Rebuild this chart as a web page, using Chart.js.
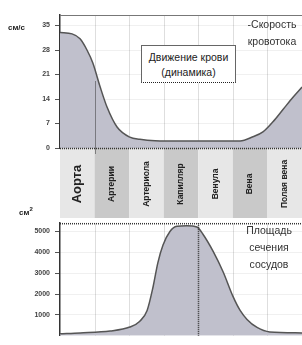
<!DOCTYPE html>
<html>
<head>
<meta charset="utf-8">
<script src="https://cdn.jsdelivr.net/npm/chart.js@4"></script>
<style>
body { margin: 0; background: #fff; }
#wrap { position: relative; width: 302px; height: 345px; overflow: hidden; font-family: "Liberation Sans", Arial, sans-serif; color: #333; }
#topBox { position: absolute; left: 0; top: 0; width: 302px; height: 218px; }
#botBox { position: absolute; left: 0; top: 214px; width: 302px; height: 131px; }
.t { position: absolute; white-space: nowrap; }
.unit { font-weight: bold; font-size: 8px; color: #222; }
.cap { font-size: 10.5px; text-align: center; line-height: 17px; color: #333; }
#dyn { left: 141px; top: 45px; width: 95px; height: 38px; border: 1px solid #666; border-bottom: 1px dotted #222; background: #fff; font-size: 10.5px; text-align: center; line-height: 15px; padding-top: 4px; box-sizing: border-box; color: #222; }
</style>
</head>
<body>
<div id="wrap">
  <div id="topBox"><canvas id="speed"></canvas></div>
  <div id="botBox"><canvas id="area"></canvas></div>
  <div class="t unit" style="left:8px;top:23px;">см/с</div>
  <div class="t unit" style="left:19px;top:206px;">см<sup style="font-size:6px">2</sup></div>
  <div class="t cap" style="left:242px;top:16px;width:60px;">-Скорость<br>кровотока</div>
  <div class="t" id="dyn">Движение крови<br>(динамика)</div>
  <div class="t cap" style="left:239px;top:222px;width:60px;">Площадь<br>сечения<br>сосудов</div>
</div>
<script>
// отделы сосудистого русла
var categories = ['Аорта', 'Артерии', 'Артериола', 'Капилляр', 'Венула', 'Вена', 'Полая вена'];

// скорость кровотока, см/с (x = позиция вдоль русла, 0..7)
var speedX = [0, 0.35, 0.58, 0.78, 0.95, 1.16, 1.36, 1.65, 2.02, 2.31, 2.75, 3.5, 4.5, 5.21, 5.58, 5.87, 6.16, 6.45, 6.74, 7];
var speedY = [33, 32.6, 31.2, 28, 24.3, 17.5, 11.7, 6, 3.1, 2.5, 2.1, 2.0, 2.0, 2.0, 3.2, 4.6, 7.5, 11, 14.5, 17.4];
var speedTicks = [0, 7, 14, 21, 28, 35];

// площадь сечения сосудов, см2
var areaX = [0, 0.58, 1.45, 2.02, 2.31, 2.52, 2.69, 2.83, 2.98, 3.18, 3.38, 3.67, 3.96, 4.14, 4.43, 4.72, 5.0, 5.21, 5.41, 5.70, 6.07, 7];
var areaY = [100, 140, 230, 420, 700, 1215, 2330, 3500, 4350, 5000, 5250, 5280, 5220, 4860, 4050, 3060, 1900, 1215, 785, 400, 185, 140];
var areaTicks = [1000, 2000, 3000, 4000, 5000];

var fillColor = '#c0c0cc';
var lineColor = '#555';
var fontFam = '"Liberation Sans", Arial, sans-serif';

function pts(xs, ys) {
    return xs.map(function (x, i) { return { x: x, y: ys[i] }; });
}

function vLines(chart) {
    var ctx = chart.ctx, a = chart.chartArea, x = chart.scales.x;
    ctx.save();
    ctx.strokeStyle = 'rgba(0,0,0,0.13)';
    ctx.lineWidth = 1;
    for (var i = 1; i < categories.length; i++) {
        var px = Math.round(x.getPixelForValue(i)) + 0.5;
        ctx.beginPath(); ctx.moveTo(px, a.top); ctx.lineTo(px, a.bottom); ctx.stroke();
    }
    ctx.restore();
}

var speedPlugin = {
    id: 'speedDeco',
    beforeDraw: function (chart) {
        var ctx = chart.ctx, a = chart.chartArea, x = chart.scales.x;
        ctx.save();
        for (var i = 0; i < categories.length; i++) {
            var l = x.getPixelForValue(i), r = x.getPixelForValue(i + 1);
            ctx.fillStyle = i % 2 ? '#c9c9c9' : '#e7e7e7';
            ctx.fillRect(l, a.bottom, r - l, chart.height - a.bottom);
        }
        ctx.restore();
        vLines(chart);
    },
    afterDraw: function (chart) {
        var ctx = chart.ctx, a = chart.chartArea, x = chart.scales.x, y = chart.scales.y;
        ctx.save();
        // пунктир на границе аорта / артерии
        ctx.strokeStyle = '#333';
        ctx.setLineDash([1, 1]);
        var px = Math.round(x.getPixelForValue(1)) + 0.5;
        ctx.beginPath(); ctx.moveTo(px, y.getPixelForValue(19)); ctx.lineTo(px, a.bottom + 6); ctx.stroke();
        // нулевая линия
        var zy = Math.round(y.getPixelForValue(0)) + 0.5;
        ctx.lineWidth = 1.5;
        ctx.beginPath(); ctx.moveTo(a.left, zy); ctx.lineTo(a.right, zy); ctx.stroke();
        ctx.setLineDash([]);
        // верхняя рамка
        ctx.lineWidth = 1;
        ctx.strokeStyle = '#777';
        ctx.beginPath(); ctx.moveTo(a.left, a.top + 0.5); ctx.lineTo(a.right, a.top + 0.5); ctx.stroke();
        // подписи отделов
        ctx.fillStyle = '#222';
        ctx.textAlign = 'center';
        ctx.textBaseline = 'middle';
        var cy = (a.bottom + chart.height) / 2 + 1;
        categories.forEach(function (c, i) {
            ctx.save();
            ctx.translate(x.getPixelForValue(i + 0.5), cy);
            ctx.rotate(-Math.PI / 2);
            ctx.font = i === 0 ? 'bold 13px ' + fontFam : 'bold 8.5px ' + fontFam;
            ctx.fillText(c, 0, 0);
            ctx.restore();
        });
        ctx.restore();
    }
};

var areaPlugin = {
    id: 'areaDeco',
    beforeDatasetsDraw: function (chart) { vLines(chart); },
    afterDraw: function (chart) {
        var ctx = chart.ctx, a = chart.chartArea, x = chart.scales.x;
        ctx.save();
        ctx.strokeStyle = '#333';
        ctx.setLineDash([1, 1]);
        ctx.lineWidth = 1.5;
        ctx.beginPath(); ctx.moveTo(a.left, a.top + 0.5); ctx.lineTo(a.right, a.top + 0.5); ctx.stroke();
        var px = Math.round(x.getPixelForValue(4)) + 0.5;
        ctx.beginPath(); ctx.moveTo(px, a.top); ctx.lineTo(px, a.bottom); ctx.stroke();
        ctx.restore();
    }
};

function yAxis(min, max, ticks) {
    return {
        min: min, max: max,
        afterBuildTicks: function (axis) { axis.ticks = ticks.map(function (v) { return { value: v }; }); },
        afterFit: function (axis) { axis.width = 60; },
        ticks: {
            color: '#444', font: { size: 7, weight: 'bold', family: fontFam }, padding: 5,
            callback: function (v) { return String(v); }
        },
        grid: { color: 'rgba(0,0,0,0.12)', tickLength: 5, tickColor: '#555' },
        border: { display: true, color: '#333', dash: [1, 1], width: 1.5 }
    };
}

Chart.defaults.animation = false;

new Chart(document.getElementById('speed').getContext('2d'), {
    type: 'line',
    data: {
        datasets: [{
            data: pts(speedX, speedY),
            fill: 'origin',
            backgroundColor: fillColor,
            borderColor: lineColor,
            borderWidth: 1.5,
            pointRadius: 0,
            cubicInterpolationMode: 'monotone'
        }]
    },
    options: {
        responsive: true,
        maintainAspectRatio: false,
        layout: { padding: { top: 15, right: 0, left: 0, bottom: 0 } },
        plugins: { legend: { display: false }, tooltip: { enabled: false } },
        scales: {
            x: {
                type: 'linear', min: 0, max: 7,
                ticks: { display: false },
                grid: { display: false },
                border: { display: false },
                afterFit: function (axis) { axis.height = 70; }
            },
            y: yAxis(0, 38, speedTicks)
        }
    },
    plugins: [speedPlugin]
});

new Chart(document.getElementById('area').getContext('2d'), {
    type: 'line',
    data: {
        datasets: [{
            data: pts(areaX, areaY),
            fill: 'origin',
            backgroundColor: fillColor,
            borderColor: lineColor,
            borderWidth: 1.5,
            pointRadius: 0,
            cubicInterpolationMode: 'monotone'
        }]
    },
    options: {
        responsive: true,
        maintainAspectRatio: false,
        layout: { padding: { top: 6, right: 0, left: 0, bottom: 0 } },
        plugins: { legend: { display: false }, tooltip: { enabled: false } },
        scales: {
            x: { type: 'linear', min: 0, max: 7, display: false },
            y: yAxis(0, 5400, areaTicks)
        }
    },
    plugins: [areaPlugin]
});
</script>
</body>
</html>
